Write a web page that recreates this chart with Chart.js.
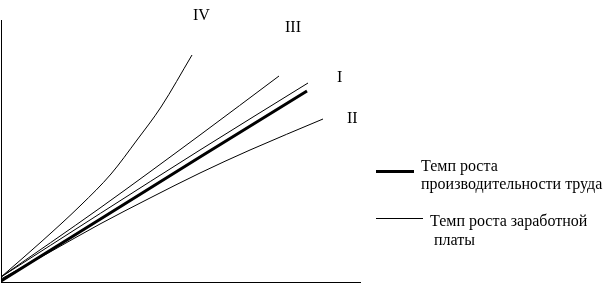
<!DOCTYPE html>
<html>
<head>
<meta charset="utf-8">
<script src="https://cdn.jsdelivr.net/npm/chart.js@4.4.1/dist/chart.umd.min.js"></script>
<style>
  body { margin: 0; background: #fff; }
  #wrap { position: relative; width: 616px; height: 293px; }
  .lbl { position: absolute; font-family: "Liberation Serif", "Times New Roman", serif; font-size: 16px; line-height: 18px; color: #000; white-space: nowrap; }
  .key { position: absolute; background: #000; }
</style>
</head>
<body>
<div id="wrap">
  <canvas id="chart"></canvas>
  <!-- curve labels -->
  <div class="lbl" style="left:193px; top:6px;">IV</div>
  <div class="lbl" style="left:285px; top:18px;">III</div>
  <div class="lbl" style="left:337px; top:68px;">I</div>
  <div class="lbl" style="left:347px; top:109px;">II</div>
  <!-- legend -->
  <div class="key" style="left:376px; top:170px; width:38px; height:3px;"></div>
  <div class="lbl" style="left:421px; top:157px;">Темп роста<br>производительности труда</div>
  <div class="key" style="left:376px; top:218px; width:47px; height:1px;"></div>
  <div class="lbl" style="left:430px; top:211px; line-height:19px;">Темп роста заработной<br>&nbsp;платы</div>
</div>
<script>
// productivity growth rate (thick line)
const prodX = [0, 199, 306];
const prodY = [1, 125, 191];

// wage growth rate, variants I - IV (thin lines)
const wageIX = [0, 199, 307];
const wageIY = [5, 132, 199];

const wageIIX = [0, 49, 99, 149, 199, 249, 322];
const wageIIY = [3, 30, 58, 84, 109, 132, 163];

const wageIIIX = [0, 99, 199, 278];
const wageIIIY = [5, 74, 147, 206];

const wageIVX = [0, 40, 80, 110, 136, 160, 191];
const wageIVY = [5, 40, 77, 108, 142, 175, 227];

function pts(xs, ys) {
    return xs.map((x, i) => ({ x: x, y: ys[i] }));
}

function thin(label, xs, ys) {
    return {
        label: label,
        data: pts(xs, ys),
        borderColor: "#000",
        borderWidth: 1,
        cubicInterpolationMode: "monotone"
    };
}

// axes: only the lines, no ticks or grid
const bareAxis = (max) => ({
    type: "linear",
    min: 0,
    max: max,
    grid: { display: false, drawTicks: false, tickLength: 0 },
    ticks: { display: false, padding: 0 },
    border: { color: "#000", width: 1 }
});

const chart = new Chart(document.getElementById("chart"), {
    type: "scatter",
    data: {
        datasets: [
            {
                label: "Темп роста производительности труда",
                data: pts(prodX, prodY),
                borderColor: "#000",
                borderWidth: 3
            },
            thin("I", wageIX, wageIY),
            thin("II", wageIIX, wageIIY),
            thin("III", wageIIIX, wageIIIY),
            thin("IV", wageIVX, wageIVY)
        ]
    },
    options: {
        responsive: true,
        maintainAspectRatio: false,
        animation: false,
        showLine: true,
        elements: { point: { radius: 0, hoverRadius: 0 } },
        layout: {
            autoPadding: false,
            padding: { left: 1, top: 20, right: 256, bottom: 11 }
        },
        plugins: {
            legend: { display: false },
            tooltip: { enabled: false }
        },
        scales: {
            x: bareAxis(359),
            y: bareAxis(262)
        }
    }
});
</script>
</body>
</html>
